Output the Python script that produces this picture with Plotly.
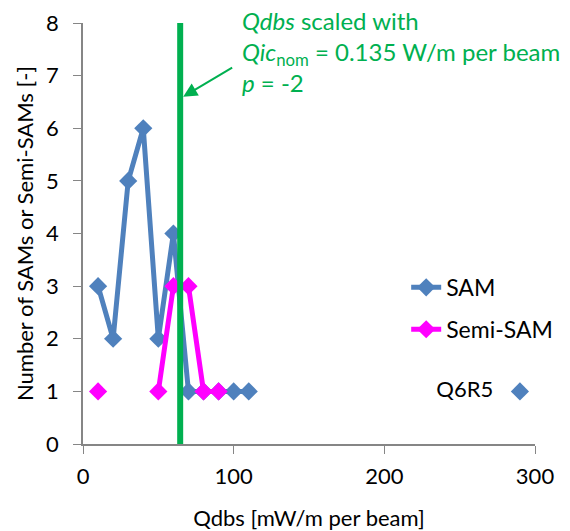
import plotly.graph_objects as go

# ---- data ----
sam_x = [10, 20, 30, 40, 50, 60, 70, 80, 90, 100, 110]
sam_y = [3, 2, 5, 6, 2, 4, 1, 1, 1, 1, 1]
semi_x = [10, 20, 30, 40, 50, 60, 70, 80, 90]
semi_y = [1, None, None, None, 1, 3, 3, 1, 1]
q6r5_x = [290]
q6r5_y = [1]
q6r5_label = ["Q6R5\u00a0\u00a0\u00a0"]
threshold_x = 64.5
x_ticks = [0, 100, 200, 300]
y_ticks = [0, 1, 2, 3, 4, 5, 6, 7, 8]

BLUE = "#4F81BD"
MAGENTA = "#FF00FF"
GREEN = "#00B050"
FONT = "Lato"

fig = go.Figure()
fig.add_trace(go.Scatter(x=sam_x, y=sam_y, name="SAM", mode="lines+markers",
                         line=dict(color=BLUE, width=5),
                         marker=dict(symbol="diamond", size=14, color=BLUE),
                         legendgroup="a", connectgaps=False))
fig.add_trace(go.Scatter(x=semi_x, y=semi_y, name="Semi-SAM", mode="lines+markers",
                         line=dict(color=MAGENTA, width=5),
                         marker=dict(symbol="diamond", size=14, color=MAGENTA),
                         legendgroup="b", connectgaps=False))
fig.add_trace(go.Scatter(x=q6r5_x, y=q6r5_y, name="Q6R5", mode="markers+text",
                         text=q6r5_label, textposition="middle left",
                         textfont=dict(family=FONT, size=22, color="black"),
                         marker=dict(symbol="diamond", size=14, color=BLUE),
                         showlegend=False))

fig.add_shape(type="line", x0=threshold_x, x1=threshold_x, y0=0, y1=8,
              xref="x", yref="y", line=dict(color=GREEN, width=6), layer="above")

fig.add_annotation(x=0.347, y=1.045, xref="paper", yref="paper", xanchor="left", yanchor="top",
                   align="left", showarrow=False,
                   text="<i>Qdbs</i> scaled with<br><i>Qic</i><sub>nom</sub> = 0.135 W/m per beam<br><i>p</i> = -2",
                   font=dict(family=FONT, size=24, color=GREEN))
fig.add_annotation(x=66.5, y=6.6, ax=100, ay=7.17, xref="x", yref="y", axref="x", ayref="y",
                   showarrow=True, arrowhead=2, arrowsize=1.4, arrowwidth=2,
                   arrowcolor=GREEN, text="")

axis_common = dict(showgrid=False, zeroline=False, showline=True, linecolor="#868686",
                   linewidth=1.5, ticks="outside", ticklen=8, tickcolor="#868686",
                   automargin=False,
                   tickfont=dict(family=FONT, size=22, color="black"))
fig.update_xaxes(range=[0, 300], tickvals=x_ticks, ticklabelstandoff=4, **axis_common,
                 title=dict(text="Qdbs [mW/m per beam]", standoff=26,
                            font=dict(family=FONT, size=22, color="black")))
fig.update_yaxes(range=[0, 8], tickvals=y_ticks, ticklabelstandoff=10, **axis_common,
                 title=dict(text="Number of SAMs or Semi-SAMs [-]", standoff=6,
                            font=dict(family=FONT, size=22, color="black")))

fig.update_layout(
    width=570, height=531,
    margin=dict(l=83, r=26, t=23, b=87),
    plot_bgcolor="white", paper_bgcolor="white",
    font=dict(family=FONT, size=22, color="black"),
    legend=dict(x=0.715, y=0.423, xanchor="left", yanchor="top",
                bgcolor="rgba(0,0,0,0)", tracegroupgap=9,
                font=dict(family=FONT, size=23, color="black")),
)

fig.write_html("out.html")
